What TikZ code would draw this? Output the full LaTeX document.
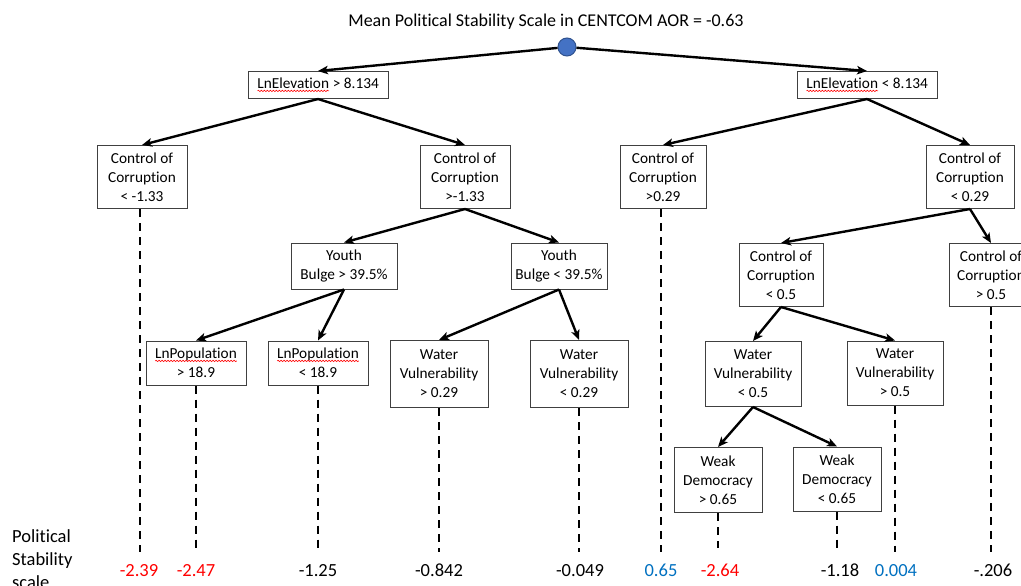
\documentclass[tikz,border=0pt]{standalone}
\usepackage{fontspec}
\setmainfont{Carlito}[Ligatures=NoCommon]
\usetikzlibrary{arrows.meta,decorations.pathmorphing}
\definecolor{ppred}{HTML}{FF0000}
\definecolor{ppblue}{HTML}{0070C0}
\definecolor{circfill}{HTML}{4472C4}
\definecolor{circline}{HTML}{2F528F}
\definecolor{boxline}{HTML}{404040}
\newcommand\spellwave[1]{\tikz[baseline=(sw.base)]{\node[inner sep=0pt,outer sep=0pt,
    minimum width=0pt, minimum height=0pt, draw=none, fill=none, align=left] (sw) {#1};
  \draw[ppred, line width=0.6pt, decorate, decoration={snake, amplitude=0.7pt, segment length=3pt}]
    ([yshift=-2.2pt]sw.base west) -- ([yshift=-2.2pt]sw.base east);}}
\begin{document}
\begin{tikzpicture}[x=1pt,y=-1pt,
  box/.style={draw=boxline, line width=1pt, fill=white, align=center,
    font=\fontsize{15.3}{19}\selectfont, inner sep=3pt},
  arr/.style={line width=2.4pt, -{Stealth[length=10pt,width=8.5pt,inset=2.5pt]}},
  dashline/.style={line width=2pt, dash pattern=on 8pt off 6pt},
  val/.style={font=\fontsize{18.5}{22}\selectfont, anchor=base},
]
\useasboundingbox (0,0) rectangle (1021,586);
\clip (0,0) rectangle (1021,586);

\node[font=\fontsize{18}{22}\selectfont] (title) at (546,22) {Mean Political Stability Scale in CENTCOM AOR = -0.63};
\node[circle, fill=circfill, draw=circline, line width=1pt, minimum size=18pt, inner sep=0pt] (root) at (567,47) {};

\node[box, minimum width=140, minimum height=27] (A) at (318,85) {\spellwave{LnElevation} > 8.134};
\node[box, minimum width=140, minimum height=27] (B) at (867,85) {\spellwave{LnElevation} < 8.134};

\node[box, minimum width=90, minimum height=63] (C1) at (142,177) {Control of\\Corruption\\< -1.33};
\node[box, minimum width=90, minimum height=63] (C2) at (465,177) {Control of\\Corruption\\>-1.33};
\node[box, minimum width=86, minimum height=63] (C3) at (663,177) {Control of\\Corruption\\>0.29};
\node[box, minimum width=88, minimum height=63] (C4) at (970,177) {Control of\\Corruption\\< 0.29};

\node[box, minimum width=106, minimum height=46] (Y1) at (344,266) {Youth\\Bulge > 39.5\%};
\node[box, minimum width=96, minimum height=46] (Y2) at (559,266) {Youth\\Bulge < 39.5\%};
\node[box, minimum width=84, minimum height=63] (C5) at (781,275) {Control of\\Corruption\\< 0.5};
\node[box, minimum width=84, minimum height=63] (C6) at (991,275) {Control of\\Corruption\\> 0.5};

\node[box, minimum width=100, minimum height=44] (L1) at (196,363) {\spellwave{LnPopulation}\\> 18.9};
\node[box, minimum width=100, minimum height=44] (L2) at (318,363) {\spellwave{LnPopulation}\\< 18.9};
\node[box, minimum width=98, minimum height=67] (W1) at (439,374) {Water\\Vulnerability\\> 0.29};
\node[box, minimum width=98, minimum height=67] (W2) at (579,374) {Water\\Vulnerability\\< 0.29};
\node[box, minimum width=96, minimum height=65] (W3) at (753,374) {Water\\Vulnerability\\< 0.5};
\node[box, minimum width=96, minimum height=64] (W4) at (895,373) {Water\\Vulnerability\\> 0.5};
\node[box, minimum width=88, minimum height=65] (D1) at (718,480) {Weak\\Democracy\\> 0.65};
\node[box, minimum width=88, minimum height=64] (D2) at (837,479) {Weak\\Democracy\\< 0.65};

% solid arrows
\draw[arr] (root) -- (A.north);
\draw[arr] (root) -- (B.north);
\draw[arr] (A.south) -- (C1.north);
\draw[arr] (A.south) -- (C2.north);
\draw[arr] (B.south) -- (C3.north);
\draw[arr] (B.south) -- (C4.north);
\draw[arr] (C2.south) -- (Y1.north);
\draw[arr] (C2.south) -- (Y2.north);
\draw[arr] (C4.south) -- (C5.north);
\draw[arr] (C4.south) -- (C6.north);
\draw[arr] (Y1.south) -- (L1.north);
\draw[arr] (Y1.south) -- (L2.north);
\draw[arr] (Y2.south) -- (W1.north);
\draw[arr] (Y2.south) -- (W2.north);
\draw[arr] (C5.south) -- (W3.north);
\draw[arr] (C5.south) -- (W4.north);
\draw[arr] (W3.south) -- (D1.north);
\draw[arr] (W3.south) -- (D2.north);

% dashed leaders
\coordinate (bot) at (0,552);
\coordinate (botD) at (0,548);
\draw[dashline] ([xshift=-2pt]C1.south) -- ([xshift=-2pt]C1.south |- bot);
\draw[dashline] (L1.south) -- (L1.south |- bot);
\draw[dashline] (L2.south) -- (L2.south |- bot);
\draw[dashline] (W1.south) -- (W1.south |- bot);
\draw[dashline] (W2.south) -- (W2.south |- bot);
\draw[dashline] ([xshift=-2pt]C3.south) -- ([xshift=-2pt]C3.south |- bot);
\draw[dashline] (D1.south) -- (D1.south |- botD);
\draw[dashline] (D2.south) -- (D2.south |- botD);
\draw[dashline] (W4.south) -- (W4.south |- bot);
\draw[dashline] (C6.south) -- (C6.south |- bot);

% values
\node[val, text=ppred] (v1) at (139,576) {-2.39};
\node[val, text=ppred] (v2) at (196,576) {-2.47};
\node[val] (v3) at (318,576) {-1.25};
\node[val] (v4) at (439,576) {-0.842};
\node[val] (v5) at (580,576) {-0.049};
\node[val, text=ppblue] (v6) at (661,576) {0.65};
\node[val, text=ppred] (v7) at (720,576) {-2.64};
\node[val] (v8) at (840,576) {-1.18};
\node[val, text=ppblue] (v9) at (896,576) {0.004};
\node[val] (v10) at (993,576) {-.206};

\node[align=left, anchor=north west, inner sep=0pt, font=\fontsize{18.5}{23}\selectfont] (lab) at (12,529) {Political\\Stability\\scale};
\end{tikzpicture}
\end{document}
